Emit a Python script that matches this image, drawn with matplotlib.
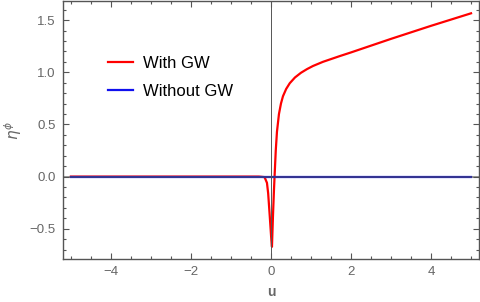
import numpy as np
import matplotlib
matplotlib.use("Agg")
import matplotlib.pyplot as plt
from matplotlib.ticker import MultipleLocator, FuncFormatter

plt.rcParams['font.family'] = ['Liberation Sans', 'DejaVu Sans']
plt.rcParams['mathtext.fontset'] = 'dejavusans'

# red curve (with GW)
u_gw = [-5.0, -0.3, -0.16, -0.1, -0.07, -0.03, 0.01, 0.025, 0.05, 0.075, 0.09,
        0.12, 0.15, 0.2, 0.25, 0.3, 0.38, 0.47, 0.6, 0.75, 0.9, 1.05, 1.3, 1.72,
        2.0, 3.0, 4.0, 5.0]
eta_gw = [0.0, 0.0, -0.005, -0.06, -0.16, -0.38, -0.61, -0.673, -0.38, -0.13, 0.0,
          0.25, 0.43, 0.60, 0.70, 0.77, 0.84, 0.895, 0.95, 0.995, 1.03, 1.06, 1.10, 1.155,
          1.19, 1.32, 1.445, 1.565]

# blue curve (without GW)
u_nogw = [-5.0, 5.0]
eta_nogw = [0.0, 0.0]

gray = '#555555'

fig = plt.figure(figsize=(4.8, 3.02), dpi=100)
ax = fig.add_axes([0.131, 0.1424, 0.867, 0.8543])

ax.plot(u_gw, eta_gw, color='#ff0000', lw=1.6, label='With GW', zorder=3)
ax.plot(u_nogw, eta_nogw, color='#1010ee', lw=1.6, label='Without GW', zorder=4)
ax.axhline(0, color='#505050', lw=1.1, alpha=0.75, zorder=5)
ax.axvline(0, color='#555555', lw=0.7, zorder=5)

ax.set_xlim(-5.2, 5.2)
ax.set_ylim(-0.79, 1.683)

ax.xaxis.set_major_locator(MultipleLocator(2))
ax.xaxis.set_minor_locator(MultipleLocator(0.5))
ax.yaxis.set_major_locator(MultipleLocator(0.5))
ax.yaxis.set_minor_locator(MultipleLocator(0.1))
ax.yaxis.set_major_formatter(FuncFormatter(lambda v, p: ('%.1f' % v).replace('-', '\u2212')))

ax.tick_params(which='both', direction='in', top=True, right=True,
               color=gray, labelcolor='#666666', labelsize=9.5, width=0.8)
ax.tick_params(which='major', length=4.5, pad=5)
ax.tick_params(which='minor', length=2.5)
for s in ax.spines.values():
    s.set_color(gray)
    s.set_linewidth(1.0)

ax.set_xlabel('u', color='#666666', fontsize=10, fontweight='bold', labelpad=5)
ax.set_ylabel(r'$\eta^{\phi}$', color='#666666', fontsize=11)
ax.yaxis.set_label_coords(-0.094, 0.5)

ax.legend(loc='upper left', bbox_to_anchor=(0.072, 0.845), frameon=False,
          fontsize=12, handlelength=1.5, handletextpad=0.6, labelspacing=0.8)

fig.savefig('out.png', dpi=100)
